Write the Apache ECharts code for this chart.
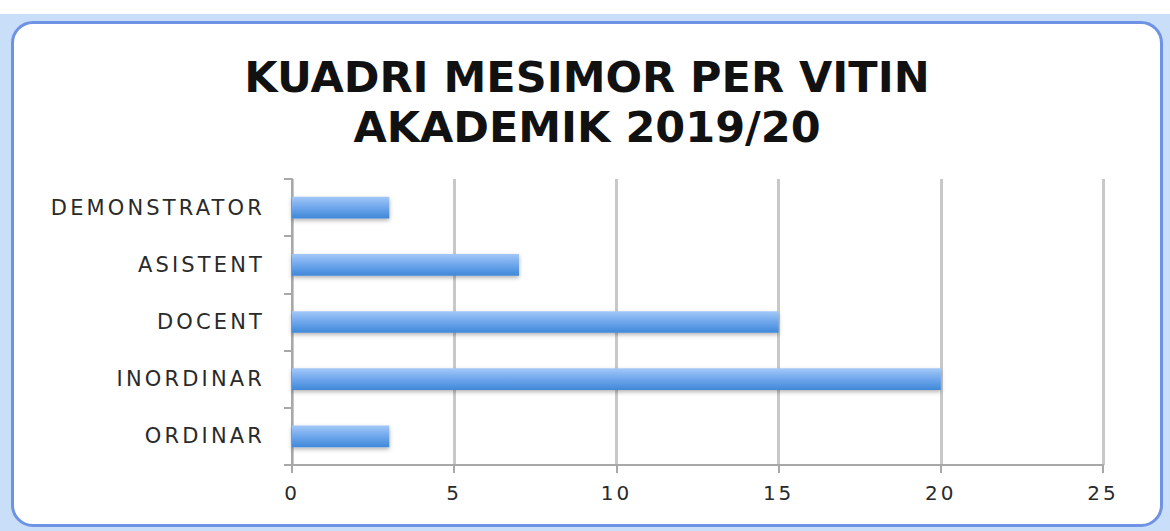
<!DOCTYPE html>
<html>
<head>
<meta charset="utf-8">
<script src="https://cdn.jsdelivr.net/npm/echarts@6/dist/echarts.min.js"></script>
<style>
  html, body { margin: 0; padding: 0; background: #fff; }
  #wrap { position: absolute; left: 0; top: 14px; width: 1170px; height: 517px; background: #c9def8; }
  #chart { position: absolute; left: 11px; top: 7px; width: 1146px; height: 500px;
           background: #fff; border: 3px solid #6f93e4; border-radius: 22px; }
  /* le graphique d'origine est étiré en largeur : on élargit un peu les étiquettes */
  #chart svg text { letter-spacing: 0.15em; }
  #chart svg text[style*="bold"] { letter-spacing: 0; }
</style>
</head>
<body>
<div id="wrap"><div id="chart"></div></div>
<script>
//Données
const categories = ['ORDINAR', 'INORDINAR', 'DOCENT', 'ASISTENT', 'DEMONSTRATOR'];
const values = [3, 20, 15, 7, 3];
const titleText = 'KUADRI MESIMOR PER VITIN\nAKADEMIK 2019/20';

let chart = echarts.init(document.getElementById('chart'), null, { renderer: 'svg' });

chart.setOption({
  backgroundColor: 'transparent',
  animation: false,
  title: {
    text: titleText,
    left: 'center',
    top: 23,
    textStyle: {
      fontFamily: 'DejaVu Sans',
      fontWeight: 'bold',
      fontSize: 43,
      lineHeight: 50,
      color: '#111'
    }
  },
  grid: { left: 278, right: 57, top: 155, bottom: 59 },
  xAxis: {
    type: 'value',
    min: 0,
    max: 25,
    interval: 5,
    axisLine: { show: true, lineStyle: { color: '#a8a8a8', width: 2 } },
    axisTick: { show: true, length: 8, lineStyle: { color: '#a8a8a8', width: 2 } },
    splitLine: { lineStyle: { color: '#c8c8c8', width: 3 } },
    axisLabel: { color: '#2a2a2a', fontFamily: 'DejaVu Sans', fontSize: 20, margin: 18 }
  },
  yAxis: {
    type: 'category',
    data: categories,
    axisLine: { lineStyle: { color: '#a8a8a8', width: 2 } },
    axisTick: { show: true, length: 8, lineStyle: { color: '#a8a8a8', width: 2 } },
    axisLabel: { color: '#2a2a2a', fontFamily: 'DejaVu Sans', fontSize: 21, margin: 27 }
  },
  series: [{
    type: 'bar',
    data: values,
    barWidth: '38%',
    itemStyle: {
      color: new echarts.graphic.LinearGradient(0, 0, 0, 1, [
        { offset: 0, color: '#a3c8f7' },
        { offset: 0.5, color: '#6ea6ec' },
        { offset: 1, color: '#3f88d8' }
      ]),
      shadowColor: 'rgba(0,0,0,0.3)',
      shadowBlur: 4,
      shadowOffsetY: 2
    }
  }]
});

window.addEventListener('resize', () => chart.resize());
</script>
</body>
</html>
